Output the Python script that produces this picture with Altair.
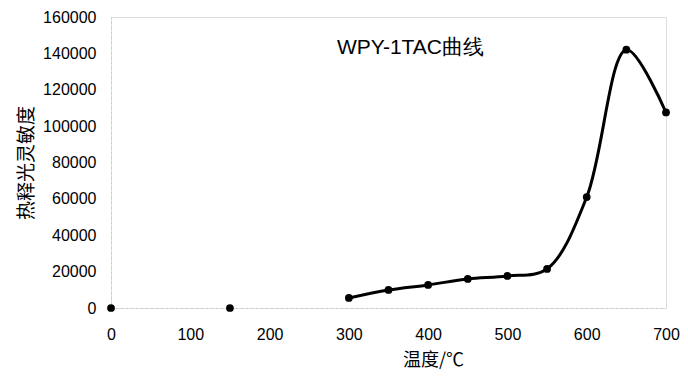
import altair as alt
import pandas as pd

temps_all = [0, 150, 300, 350, 400, 450, 500, 550, 600, 650, 700]
values_all = [0, 0, 5500, 9900, 12700, 16000, 17600, 21500, 61000, 142000, 107500]
curve_start = 300

df = pd.DataFrame({"t": temps_all, "v": values_all})
df_line = df[df["t"] >= curve_start]

x_enc = alt.X("t:Q", scale=alt.Scale(domain=[0, 700], nice=False, zero=False),
              axis=alt.Axis(values=[0, 100, 200, 300, 400, 500, 600, 700], title="温度/℃",
                            grid=False, ticks=False, labelPadding=18, labelOverlap=False,
                            labelFlush=False, labelBound=False,
                            labelFont="Liberation Sans", labelFontSize=16, labelColor="#000",
                            domainColor="#bbb", domainDash=[1, 4], domainWidth=1,
                            titleFont="Noto Sans CJK SC", titleFontSize=18, titleFontWeight="normal",
                            titleColor="#000", titleX=322, titlePadding=9))
y_enc = alt.Y("v:Q", scale=alt.Scale(domain=[0, 160000], nice=False),
              axis=alt.Axis(values=[0, 20000, 40000, 60000, 80000, 100000, 120000, 140000, 160000],
                            title="热释光灵敏度",
                            grid=False, ticks=False, labelPadding=15, format="d",
                            labelOverlap=False, labelFlush=False, labelBound=False,
                            labelFont="Liberation Sans", labelFontSize=16, labelColor="#000",
                            domainColor="#bbb", domainDash=[1, 4], domainWidth=1,
                            titleFont="Noto Sans CJK SC", titleFontSize=19, titleFontWeight="normal",
                            titleColor="#000", titlePadding=6))

line = alt.Chart(df_line).mark_line(color="#000", strokeWidth=3, interpolate="catmull-rom").encode(
    x=x_enc, y=y_enc)
points = alt.Chart(df).mark_circle(color="#000", size=60, opacity=1).encode(x=x_enc, y=y_enc)
title = alt.Chart(pd.DataFrame({"s": ["WPY-1TAC曲线"]})).mark_text(
    font="Liberation Sans", fontSize=21, align="left", baseline="middle", color="#000"
).encode(x=alt.value(226), y=alt.value(31), text="s:N")

chart = alt.layer(line, points, title).properties(
    width=555, height=291,
    autosize=alt.AutoSizeParams(type="none"),
    padding={"left": 103, "top": 9, "right": 14, "bottom": 64},
).configure_view(stroke=None).configure(background="white").configure_axis(labelOverlap=False)

chart.save("out.html", embed_options={"renderer": "svg", "actions": False})
